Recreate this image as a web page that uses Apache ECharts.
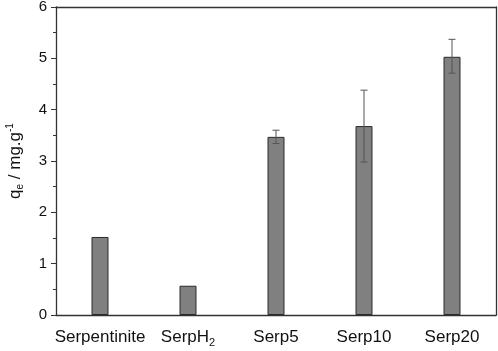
<!DOCTYPE html>
<html>
<head>
<meta charset="utf-8">
<script src="https://cdn.jsdelivr.net/npm/echarts@6/dist/echarts.min.js"></script>
<style>
  html, body {margin: 0; padding: 0; background: #fff;}
  #chart {width: 498px; height: 351px;}
</style>
</head>
<body>
<div id="chart"></div>
<script>
const categories = ["Serpentinite", "SerpH2", "Serp5", "Serp10", "Serp20"];
const qeValues = [1.52, 0.57, 3.47, 3.68, 5.03];
const errLow = [null, null, 3.34, 2.98, 4.71];
const errHigh = [null, null, 3.60, 4.38, 5.37];
const yTicks = [0, 1, 2, 3, 4, 5, 6];

const chart = echarts.init(document.getElementById("chart"));
const font = "Liberation Sans, Arial, sans-serif";

const errData = categories.map((c, i) => [i, errLow[i], errHigh[i]]).filter(d => d[1] !== null);

// every label gets a sub fragment so they all sit on the same baseline
function xLabel(v) {
  if (v === "SerpH2") return "SerpH{sub|2}";
  return v + "{sub|\u200b}";
}

const frame = {show: true, onZero: false, lineStyle: {color: "#333", width: 1.3}};

const option = {
  animation: false,
  grid: {
    left: 56, right: 2, top: 7, bottom: 36,
    outerBoundsMode: "none", containLabel: false,
  },
  xAxis: [
    {
      type: "category",
      data: categories,
      axisLine: frame,
      axisTick: {show: false},
      axisLabel: {
        interval: 0,
        color: "#111", fontFamily: font, fontSize: 17, margin: 12,
        formatter: xLabel,
        rich: {sub: {fontSize: 11, padding: [10, 0, 0, 0], fontFamily: font, color: "#111"}},
      },
    },
    {
      type: "value", position: "top", min: 0, max: 1,
      axisLine: frame,
      axisTick: {show: false}, axisLabel: {show: false}, splitLine: {show: false},
    },
  ],
  yAxis: [
    {
      type: "value", min: yTicks[0], max: yTicks[yTicks.length - 1], interval: 1,
      name: "q{sub|e} / mg.g{sup|-1}",
      nameLocation: "middle", nameGap: 31, nameRotate: 90,
      nameTextStyle: {
        fontFamily: font, fontSize: 17, color: "#111",
        rich: {
          sub: {fontSize: 10, fontFamily: font, color: "#111", padding: [10, 0, 0, 0]},
          sup: {fontSize: 10, fontFamily: font, color: "#111", padding: [0, 0, 10, 0]},
        },
      },
      axisLine: frame,
      axisTick: {show: true, length: 5, lineStyle: {color: "#333"}},
      minorTick: {show: true, splitNumber: 2, length: 3, lineStyle: {color: "#333"}},
      axisLabel: {color: "#111", fontFamily: font, fontSize: 15, margin: 9},
      splitLine: {show: false},
    },
    {
      type: "value", position: "right", min: 0, max: 6,
      axisLine: frame,
      axisTick: {show: false}, axisLabel: {show: false}, splitLine: {show: false},
    },
  ],
  series: [
    {
      type: "bar",
      data: qeValues,
      barWidth: 17,
      itemStyle: {color: "#808080", borderColor: "#2a2a2a", borderWidth: 1},
    },
    {
      type: "custom",
      data: errData,
      z: 5,
      renderItem: (params, api) => {
        const x = api.value(0);
        const lo = api.coord([x, api.value(1)]);
        const hi = api.coord([x, api.value(2)]);
        const cap = 3.5;
        const style = {stroke: "#555", lineWidth: 1, fill: null};
        return {
          type: "group",
          children: [
            {type: "line", shape: {x1: lo[0], y1: lo[1], x2: hi[0], y2: hi[1]}, style},
            {type: "line", shape: {x1: hi[0] - cap, y1: hi[1], x2: hi[0] + cap, y2: hi[1]}, style},
            {type: "line", shape: {x1: lo[0] - cap, y1: lo[1], x2: lo[0] + cap, y2: lo[1]}, style},
          ],
        };
      },
    },
  ],
};

chart.setOption(option);
</script>
</body>
</html>
